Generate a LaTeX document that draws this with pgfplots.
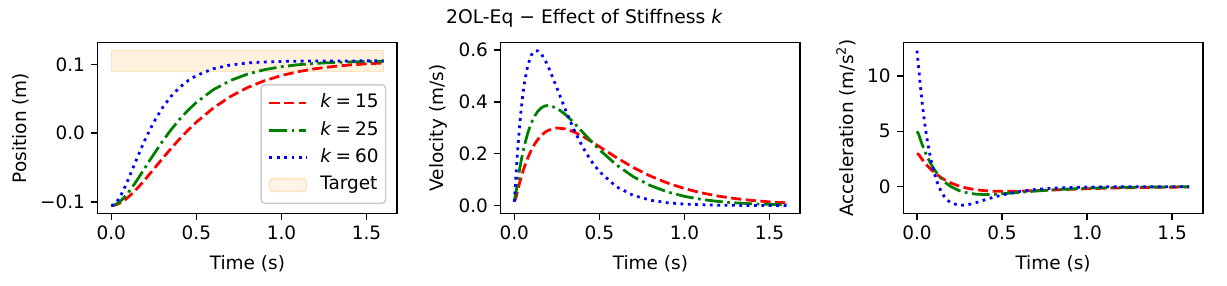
\documentclass[border=0pt]{standalone}
\usepackage{fontspec}
\setmainfont{DejaVu Sans}
\usepackage{pgfplots}
\pgfplotsset{compat=1.18}
\usepackage{pgfplotstable}

% k = 15
\pgfplotstableread{
t x v a
0.00 -0.105 0.015 3.00
0.01 -0.104846 0.030304 2.9130
0.02 -0.104402 0.058305 2.6894
0.03 -0.103688 0.084134 2.4786
0.04 -0.102725 0.107916 2.2800
0.05 -0.101536 0.129771 2.0928
0.06 -0.100136 0.149810 1.9166
0.08 -0.096779 0.184858 1.5948
0.10 -0.092782 0.213851 1.3103
0.12 -0.088260 0.237492 1.0593
0.14 -0.083314 0.256423 0.8385
0.16 -0.078031 0.271213 0.6447
0.18 -0.072490 0.282372 0.4751
0.20 -0.066757 0.290360 0.3272
0.25 -0.051962 0.299050 0.0380
0.30 -0.037053 0.295685 -0.1596
0.35 -0.022528 0.284233 -0.2887
0.40 -0.008714 0.267647 -0.3675
0.45 0.004188 0.248094 -0.4095
0.50 0.016072 0.227129 -0.4254
0.60 0.036665 0.185036 -0.4082
0.70 0.053202 0.146555 -0.3582
0.80 0.066165 0.113707 -0.2983
0.90 0.076145 0.086842 -0.2398
1.00 0.083719 0.065508 -0.1882
1.10 0.089403 0.048922 -0.1450
1.20 0.093632 0.036231 -0.1101
1.30 0.096754 0.026646 -0.0827
1.40 0.099042 0.019483 -0.0615
1.50 0.100711 0.014170 -0.0454
1.60 0.101923 0.010262 -0.0333
}\dataA

% k = 25
\pgfplotstableread{
t x v a
0.00 -0.105 0.015 5.00
0.01 -0.104746 0.049940 4.7443
0.02 -0.104017 0.095008 4.2754
0.03 -0.102861 0.135562 3.8409
0.04 -0.101320 0.171934 3.4387
0.05 -0.099435 0.204435 3.0665
0.06 -0.097243 0.233358 2.7225
0.08 -0.092074 0.281534 2.1115
0.10 -0.086057 0.318429 1.5921
0.12 -0.079401 0.345752 1.1525
0.14 -0.072281 0.364990 0.7821
0.16 -0.064846 0.377436 0.4718
0.18 -0.057221 0.384209 0.2135
0.20 -0.049509 0.386273 0.0000
0.25 -0.030374 0.376038 -0.3760
0.30 -0.012143 0.351430 -0.5857
0.35 0.004646 0.319310 -0.6842
0.40 0.019739 0.284204 -0.7105
0.45 0.033065 0.249005 -0.6917
0.50 0.044667 0.215473 -0.6464
0.60 0.063179 0.156829 -0.5228
0.70 0.076463 0.110974 -0.3963
0.80 0.085769 0.076927 -0.2885
0.90 0.092169 0.052490 -0.2041
1.00 0.096510 0.035375 -0.1415
1.10 0.099421 0.023602 -0.0966
1.20 0.101356 0.015618 -0.0651
1.30 0.102633 0.010258 -0.0434
1.40 0.103468 0.006703 -0.0287
1.50 0.104013 0.004355 -0.0189
1.60 0.104366 0.002814 -0.0123
}\dataB

% k = 60
\pgfplotstableread{
t x v a
0.00 -0.105 0.015 12.30
0.01 -0.104402 0.116611 10.7576
0.02 -0.102725 0.215834 9.1199
0.03 -0.100136 0.299623 7.6665
0.04 -0.096779 0.369720 6.3791
0.05 -0.092782 0.427702 5.2411
0.06 -0.088260 0.474984 4.2372
0.08 -0.078031 0.542423 2.5787
0.10 -0.066757 0.580721 1.3090
0.12 -0.054950 0.596856 0.3506
0.14 -0.042994 0.596397 -0.3597
0.16 -0.031175 0.583775 -0.8733
0.18 -0.019700 0.562494 -1.2321
0.20 -0.008714 0.535296 -1.4699
0.25 0.016072 0.454260 -1.7016
0.30 0.036665 0.370074 -1.6330
0.35 0.053202 0.293112 -1.4330
0.40 0.066165 0.227414 -1.1930
0.45 0.076145 0.173684 -0.9594
0.50 0.083719 0.131016 -0.7528
0.60 0.093632 0.072462 -0.4405
0.70 0.099042 0.038967 -0.2462
0.80 0.101923 0.020523 -0.1333
0.90 0.103430 0.010637 -0.0706
1.00 0.104205 0.005456 -0.0368
1.10 0.104602 0.002759 -0.0189
1.20 0.104802 0.001388 -0.0096
1.30 0.104902 0.000693 -0.0048
1.40 0.104951 0.000344 -0.0024
1.50 0.104976 0.000170 -0.0012
1.60 0.104988 0.000084 -0.0006
}\dataC

\definecolor{mplgreen}{rgb}{0,0.5,0}
\definecolor{bandfill}{RGB}{254,241,222}
\definecolor{banddraw}{RGB}{253,228,188}
\definecolor{legedge}{RGB}{204,204,204}

\pgfplotsset{
  panel/.style={
    scale only axis, width=215.6pt, height=122.8pt,
    xmin=-0.08, xmax=1.68,
    xtick={0,0.5,1,1.5}, xticklabels={0.0,0.5,1.0,1.5},
    axis line style={line width=1.06pt, black},
    every tick/.style={black, line width=1.06pt},
    tick align=outside, major tick length=4.66pt,
    tick pos=left,
    xlabel={Time (s)},
    xlabel shift=4pt,
    ylabel shift=1.5pt,
    xticklabel style={yshift=-1pt},
    yticklabel style={xshift=-1pt},
    font=\fontsize{13.3}{16}\selectfont,
    clip=true,
  },
  s15/.style={red, line width=2pt, dash pattern=on 7.4pt off 3.2pt},
  s25/.style={mplgreen, line width=2pt, dash pattern=on 12.8pt off 3.2pt on 2pt off 3.2pt},
  s60/.style={blue, line width=2pt, dash pattern=on 2pt off 3.3pt},
}

\begin{document}
\begin{tikzpicture}
\path[use as bounding box] (0,0) rectangle (883.44pt,205.92pt);

\node[font=\fontsize{13.5}{16}\selectfont, anchor=base] at (420.8pt,189.1pt) {2OL-Eq − Effect of Stiffness \textit{k}};

% Position
\begin{axis}[panel, at={(70.34pt,52.34pt)}, anchor=south west,
  ymin=-0.1163, ymax=0.1313,
  ytick={-0.1,0,0.1}, yticklabels={−0.1,0.0,0.1},
  ylabel={Position (m)},
  legend style={at={(0.964,0.0545)}, anchor=south east,
    draw=legedge, line width=1.06pt, rounded corners=2.6pt,
    fill=white, fill opacity=0.8, text opacity=1, draw opacity=1,
    font=\fontsize{13.3}{16}\selectfont,
    inner xsep=5pt, inner ysep=6.8pt,
    row sep=7.1pt, column sep=9pt,
    nodes={inner sep=0pt, text height=9.7pt, text depth=2.9pt},
  },
  legend cell align=left,
  legend image code/.code={\draw[#1] (0pt,0pt) -- (26.6pt,0pt);},
]
\addplot[fill=bandfill, draw=banddraw, line width=1pt, forget plot] coordinates {(0,0.09) (1.6,0.09) (1.6,0.12) (0,0.12)} -- cycle;
\addplot[s15] table[x=t, y=x] {\dataA};
\addlegendentry{\textit{k}\hspace{0.22em}=\hspace{0.22em}15}
\addplot[s25] table[x=t, y=x] {\dataB};
\addlegendentry{\textit{k}\hspace{0.22em}=\hspace{0.22em}25}
\addplot[s60] table[x=t, y=x] {\dataC};
\addlegendentry{\textit{k}\hspace{0.22em}=\hspace{0.22em}60}
\addlegendimage{legend image code/.code={\filldraw[fill=bandfill, draw=banddraw, line width=1pt] (0pt,-4.65pt) rectangle (26.6pt,4.65pt);}}
\addlegendentry{Target}
\end{axis}

% Velocity
\begin{axis}[panel, at={(360.5pt,52.34pt)}, anchor=south west,
  ymin=-0.03, ymax=0.628,
  ytick={0,0.2,0.4,0.6}, yticklabels={0.0,0.2,0.4,0.6},
  ylabel={Velocity (m/s)},
]
\addplot[s15] table[x=t, y=v] {\dataA};
\addplot[s25] table[x=t, y=v] {\dataB};
\addplot[s60] table[x=t, y=v] {\dataC};
\end{axis}

% Acceleration
\begin{axis}[panel, at={(650.4pt,52.34pt)}, anchor=south west,
  ymin=-2.41, ymax=13.01,
  ytick={0,5,10}, yticklabels={0,5,10},
  ylabel={Acceleration (m/s\textsuperscript{2})},
]
\addplot[s15] table[x=t, y=a] {\dataA};
\addplot[s25] table[x=t, y=a] {\dataB};
\addplot[s60] table[x=t, y=a] {\dataC};
\end{axis}
\end{tikzpicture}
\end{document}
